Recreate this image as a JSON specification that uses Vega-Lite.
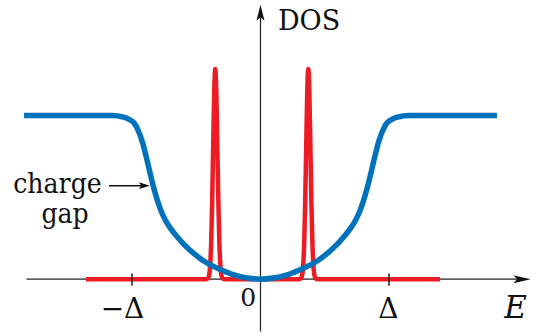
{
  "$schema": "https://vega.github.io/schema/vega-lite/v6.json",
  "width": 535,
  "height": 333,
  "autosize": {"type": "fit", "contains": "padding"},
  "padding": 0,
  "background": "white",
  "config": {"view": {"stroke": null}},
  "encoding": {
    "x": {"field": "E", "type": "quantitative", "scale": {"domain": [-2.0272, 2.1362], "nice": false, "zero": false}, "axis": null},
    "y": {"field": "D", "type": "quantitative", "scale": {"domain": [-0.3105, 1.7052], "nice": false, "zero": false}, "axis": null}
  },
  "layer": [
    {
      "data": {"values": [
        {"E": -1.82, "D": 0, "E2": 2.0, "D2": 0},
        {"E": 0, "D": -0.32, "E2": 0, "D2": 1.6}
      ]},
      "mark": {"type": "rule", "color": "#222222", "strokeWidth": 1.2},
      "encoding": {"x2": {"field": "E2"}, "y2": {"field": "D2"}}
    },
    {
      "data": {"values": [
        {"E": -1.358, "D": 0}, {"E": -0.427, "D": 0}, {"E": -0.412, "D": 0.003}, {"E": -0.402, "D": 0.017},
        {"E": -0.392, "D": 0.081}, {"E": -0.384, "D": 0.218}, {"E": -0.376, "D": 0.474}, {"E": -0.368, "D": 0.824},
        {"E": -0.36, "D": 1.149}, {"E": -0.352, "D": 1.284}, {"E": -0.344, "D": 1.149}, {"E": -0.336, "D": 0.824},
        {"E": -0.328, "D": 0.474}, {"E": -0.32, "D": 0.218}, {"E": -0.312, "D": 0.081}, {"E": -0.302, "D": 0.017},
        {"E": -0.292, "D": 0.003}, {"E": -0.277, "D": 0},
        {"E": 0.297, "D": 0}, {"E": 0.312, "D": 0.003}, {"E": 0.322, "D": 0.017}, {"E": 0.332, "D": 0.081},
        {"E": 0.34, "D": 0.218}, {"E": 0.348, "D": 0.474}, {"E": 0.356, "D": 0.824}, {"E": 0.364, "D": 1.149},
        {"E": 0.372, "D": 1.284}, {"E": 0.38, "D": 1.149}, {"E": 0.388, "D": 0.824}, {"E": 0.396, "D": 0.474},
        {"E": 0.404, "D": 0.218}, {"E": 0.412, "D": 0.081}, {"E": 0.422, "D": 0.017}, {"E": 0.432, "D": 0.003},
        {"E": 0.447, "D": 0}, {"E": 1.397, "D": 0}
      ]},
      "mark": {"type": "line", "color": "#ED1C24", "strokeWidth": 4.5, "interpolate": "monotone", "strokeJoin": "round"}
    },
    {
      "data": {"values": [
        {"E": -1.84, "D": 1.0}, {"E": -1.25, "D": 1.0}, {"E": -1.15, "D": 0.999}, {"E": -1.08, "D": 0.992},
        {"E": -1.02, "D": 0.975}, {"E": -0.98, "D": 0.95}, {"E": -0.95, "D": 0.905}, {"E": -0.92, "D": 0.84},
        {"E": -0.89, "D": 0.75}, {"E": -0.86, "D": 0.65}, {"E": -0.83, "D": 0.555}, {"E": -0.8, "D": 0.475},
        {"E": -0.77, "D": 0.41}, {"E": -0.74, "D": 0.36}, {"E": -0.7, "D": 0.31}, {"E": -0.65, "D": 0.26},
        {"E": -0.6, "D": 0.215}, {"E": -0.55, "D": 0.178}, {"E": -0.5, "D": 0.145}, {"E": -0.45, "D": 0.115},
        {"E": -0.4, "D": 0.092}, {"E": -0.3, "D": 0.055}, {"E": -0.2, "D": 0.025}, {"E": -0.1, "D": 0.007},
        {"E": 0, "D": 0},
        {"E": 0.1, "D": 0.007}, {"E": 0.2, "D": 0.025}, {"E": 0.3, "D": 0.055}, {"E": 0.4, "D": 0.092},
        {"E": 0.45, "D": 0.115}, {"E": 0.5, "D": 0.145}, {"E": 0.55, "D": 0.178}, {"E": 0.6, "D": 0.215},
        {"E": 0.65, "D": 0.26}, {"E": 0.7, "D": 0.31}, {"E": 0.74, "D": 0.36}, {"E": 0.77, "D": 0.41},
        {"E": 0.8, "D": 0.475}, {"E": 0.83, "D": 0.555}, {"E": 0.86, "D": 0.65}, {"E": 0.89, "D": 0.75},
        {"E": 0.92, "D": 0.84}, {"E": 0.95, "D": 0.905}, {"E": 0.98, "D": 0.95}, {"E": 1.02, "D": 0.975},
        {"E": 1.08, "D": 0.992}, {"E": 1.15, "D": 0.999}, {"E": 1.25, "D": 1.0}, {"E": 1.84, "D": 1.0}
      ]},
      "mark": {"type": "line", "color": "#0072BC", "strokeWidth": 5.5, "interpolate": "monotone"}
    },
    {
      "data": {"values": [
        {"E": -1, "D": 0.035, "E2": -1, "D2": -0.04},
        {"E": 1, "D": 0.035, "E2": 1, "D2": -0.04},
        {"E": -1.179, "D": 0.571, "E2": -0.93, "D2": 0.571}
      ]},
      "mark": {"type": "rule", "color": "#111111", "strokeWidth": 1.4},
      "encoding": {"x2": {"field": "E2"}, "y2": {"field": "D2"}}
    },
    {
      "data": {"values": [{"E": 2.035, "D": 0}]},
      "mark": {"type": "point", "filled": true, "opacity": 1, "color": "#111111", "size": 300, "shape": "M 1 0 L -1 -0.46 L -0.55 0 L -1 0.46 Z"}
    },
    {
      "data": {"values": [{"E": 0, "D": 1.627}]},
      "mark": {"type": "point", "filled": true, "opacity": 1, "color": "#111111", "size": 256, "shape": "M 0 -1 L -0.5 1 L 0 0.55 L 0.5 1 Z"}
    },
    {
      "data": {"values": [{"E": -0.903, "D": 0.571}]},
      "mark": {"type": "point", "filled": true, "opacity": 1, "color": "#111111", "size": 121, "shape": "M 1 0 L -1 -0.62 L -0.6 0 L -1 0.62 Z"}
    },
    {
      "data": {"values": [
        {"E": -1.074, "D": -0.236, "label": "−Δ"},
        {"E": 0.996, "D": -0.236, "label": "Δ"}
      ]},
      "mark": {"type": "text", "font": "DejaVu Serif", "fontSize": 28, "color": "#111111", "align": "center", "baseline": "alphabetic"},
      "encoding": {"text": {"field": "label"}}
    },
    {
      "data": {"values": [{"E": -0.095, "D": -0.161, "label": "0"}]},
      "mark": {"type": "text", "font": "DejaVu Serif", "fontSize": 25, "color": "#111111", "align": "center", "baseline": "alphabetic"},
      "encoding": {"text": {"field": "label"}}
    },
    {
      "data": {"values": [
        {"E": -1.58, "D": 0.525, "label": "charge"},
        {"E": -1.521, "D": 0.343, "label": "gap"}
      ]},
      "mark": {"type": "text", "font": "DejaVu Serif Condensed", "fontSize": 28, "color": "#111111", "align": "center", "baseline": "alphabetic"},
      "encoding": {"text": {"field": "label"}}
    },
    {
      "data": {"values": [{"E": 0.136, "D": 1.524, "label": "DOS"}]},
      "mark": {"type": "text", "font": "DejaVu Serif", "fontSize": 27, "color": "#111111", "align": "left", "baseline": "alphabetic"},
      "encoding": {"text": {"field": "label"}}
    },
    {
      "data": {"values": [{"E": 1.984, "D": -0.236, "label": "E"}]},
      "mark": {"type": "text", "font": "DejaVu Serif", "fontSize": 31, "fontStyle": "italic", "color": "#111111", "align": "center", "baseline": "alphabetic"},
      "encoding": {"text": {"field": "label"}}
    }
  ]
}
